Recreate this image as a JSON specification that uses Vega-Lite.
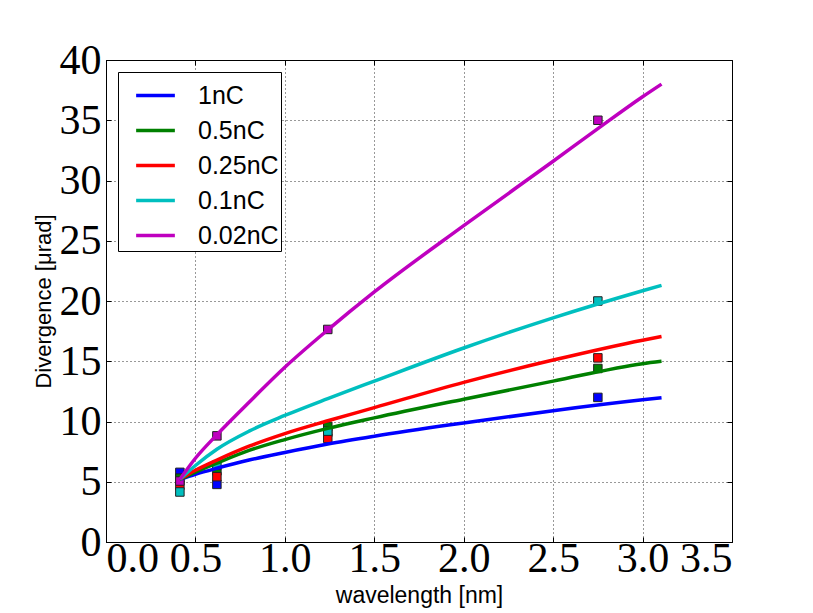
{
  "$schema": "https://vega.github.io/schema/vega-lite/v6.json",
  "width": 626,
  "height": 482,
  "autosize": {"type": "none"},
  "padding": {"left": 106, "top": 60, "right": 81, "bottom": 71},
  "background": "white",
  "config": {
    "view": {"stroke": "black", "strokeWidth": 1},
    "axis": {
      "gridColor": "#000000",
      "gridDash": [1, 3],
      "gridOpacity": 0.8,
      "gridWidth": 1,
      "domainColor": "black",
      "tickColor": "black",
      "tickSize": -5,
      "labelFont": "Liberation Serif",
      "labelFontSize": 42,
      "labelColor": "black",
      "titleFont": "Liberation Sans",
      "titleFontWeight": "normal",
      "titleColor": "black"
    },
    "legend": {
      "title": null, "orient": "none", "legendX": 12, "legendY": 12, "fillColor": "white", "strokeColor": "black", "padding": 2, "cornerRadius": 0, "symbolType": "stroke", "symbolStrokeWidth": 3.5, "symbolSize": 1500, "labelFont": "Liberation Sans", "labelFontSize": 25, "labelColor": "black", "rowPadding": -2, "labelOffset": 21, "symbolOffset": 14
    }
  },
  "datasets": {
    "curves": [
      {"x": 0.413, "y": 5.2, "q": "1nC"}, {"x": 0.5, "y": 5.62, "q": "1nC"}, {"x": 0.62, "y": 6.12, "q": "1nC"}, {"x": 0.8, "y": 6.8, "q": "1nC"}, {"x": 1.0, "y": 7.43, "q": "1nC"}, {"x": 1.24, "y": 8.13, "q": "1nC"}, {"x": 1.5, "y": 8.78, "q": "1nC"}, {"x": 2.0, "y": 9.88, "q": "1nC"}, {"x": 2.5, "y": 10.9, "q": "1nC"}, {"x": 3.0, "y": 11.8, "q": "1nC"}, {"x": 3.106, "y": 11.97, "q": "1nC"},
      {"x": 0.413, "y": 5.2, "q": "0.5nC"}, {"x": 0.5, "y": 5.8, "q": "0.5nC"}, {"x": 0.62, "y": 6.55, "q": "0.5nC"}, {"x": 0.8, "y": 7.6, "q": "0.5nC"}, {"x": 1.0, "y": 8.5, "q": "0.5nC"}, {"x": 1.24, "y": 9.43, "q": "0.5nC"}, {"x": 1.5, "y": 10.3, "q": "0.5nC"}, {"x": 2.0, "y": 11.85, "q": "0.5nC"}, {"x": 2.5, "y": 13.35, "q": "0.5nC"}, {"x": 3.0, "y": 14.8, "q": "0.5nC"}, {"x": 3.106, "y": 15.0, "q": "0.5nC"},
      {"x": 0.413, "y": 5.2, "q": "0.25nC"}, {"x": 0.5, "y": 5.95, "q": "0.25nC"}, {"x": 0.62, "y": 6.8, "q": "0.25nC"}, {"x": 0.8, "y": 7.95, "q": "0.25nC"}, {"x": 1.0, "y": 9.0, "q": "0.25nC"}, {"x": 1.24, "y": 10.06, "q": "0.25nC"}, {"x": 1.5, "y": 11.15, "q": "0.25nC"}, {"x": 2.0, "y": 13.25, "q": "0.25nC"}, {"x": 2.5, "y": 15.1, "q": "0.25nC"}, {"x": 3.0, "y": 16.75, "q": "0.25nC"}, {"x": 3.106, "y": 17.05, "q": "0.25nC"},
      {"x": 0.413, "y": 5.2, "q": "0.1nC"}, {"x": 0.5, "y": 6.35, "q": "0.1nC"}, {"x": 0.62, "y": 7.7, "q": "0.1nC"}, {"x": 0.8, "y": 9.2, "q": "0.1nC"}, {"x": 1.0, "y": 10.5, "q": "0.1nC"}, {"x": 1.24, "y": 11.9, "q": "0.1nC"}, {"x": 1.5, "y": 13.35, "q": "0.1nC"}, {"x": 2.0, "y": 16.1, "q": "0.1nC"}, {"x": 2.5, "y": 18.6, "q": "0.1nC"}, {"x": 3.0, "y": 20.85, "q": "0.1nC"}, {"x": 3.106, "y": 21.3, "q": "0.1nC"},
      {"x": 0.413, "y": 5.2, "q": "0.02nC"}, {"x": 0.5, "y": 6.95, "q": "0.02nC"}, {"x": 0.62, "y": 8.9, "q": "0.02nC"}, {"x": 0.8, "y": 11.6, "q": "0.02nC"}, {"x": 1.0, "y": 14.5, "q": "0.02nC"}, {"x": 1.24, "y": 17.6, "q": "0.02nC"}, {"x": 1.5, "y": 20.75, "q": "0.02nC"}, {"x": 2.0, "y": 26.25, "q": "0.02nC"}, {"x": 2.5, "y": 31.6, "q": "0.02nC"}, {"x": 2.75, "y": 34.3, "q": "0.02nC"}, {"x": 3.0, "y": 36.95, "q": "0.02nC"}, {"x": 3.106, "y": 38.0, "q": "0.02nC"}
    ],
    "pts": [
      {"x": 0.413, "y": 5.78, "q": "1nC"}, {"x": 0.413, "y": 5.3, "q": "0.5nC"}, {"x": 0.413, "y": 4.7, "q": "0.25nC"}, {"x": 0.413, "y": 4.15, "q": "0.1nC"}, {"x": 0.413, "y": 5.06, "q": "0.02nC"},
      {"x": 0.62, "y": 4.78, "q": "1nC"}, {"x": 0.62, "y": 5.9, "q": "0.5nC"}, {"x": 0.62, "y": 5.42, "q": "0.25nC"}, {"x": 0.62, "y": 6.38, "q": "0.1nC"}, {"x": 0.62, "y": 8.81, "q": "0.02nC"},
      {"x": 1.24, "y": 9.1, "q": "1nC"}, {"x": 1.24, "y": 9.6, "q": "0.5nC"}, {"x": 1.24, "y": 8.6, "q": "0.25nC"}, {"x": 1.24, "y": 9.2, "q": "0.1nC"}, {"x": 1.24, "y": 17.64, "q": "0.02nC"},
      {"x": 2.75, "y": 12.0, "q": "1nC"}, {"x": 2.75, "y": 14.4, "q": "0.5nC"}, {"x": 2.75, "y": 15.28, "q": "0.25nC"}, {"x": 2.75, "y": 20.0, "q": "0.1nC"}, {"x": 2.75, "y": 35.0, "q": "0.02nC"}
    ]
  },
  "layer": [
    {
      "data": {"name": "pts"},
      "mark": {"type": "point", "shape": "square", "filled": true, "size": 72, "stroke": "#222222", "strokeWidth": 1, "opacity": 1},
      "encoding": {
        "x": {"field": "x", "type": "quantitative", "scale": {"domain": [0, 3.5], "nice": false}, "axis": {"orient": "top", "labels": false, "title": null, "grid": false, "domain": false, "values": [0,0.5,1,1.5,2,2.5,3,3.5]}},
        "y": {"field": "y", "type": "quantitative", "scale": {"domain": [0, 40], "nice": false}, "axis": {"orient": "right", "labels": false, "title": null, "grid": false, "domain": false, "values": [0,5,10,15,20,25,30,35,40]}},
        "color": {"field": "q", "type": "nominal", "scale": {"domain": ["1nC", "0.5nC", "0.25nC", "0.1nC", "0.02nC"], "range": ["#0000ff", "#008000", "#ff0000", "#00bfbf", "#bf00bf"]}, "legend": {"symbolType": "stroke"}}
      }
    },
    {
      "data": {"name": "curves"},
      "mark": {"type": "line", "strokeWidth": 3.5, "interpolate": "monotone"},
      "encoding": {
        "x": {"field": "x", "type": "quantitative", "scale": {"domain": [0, 3.5], "nice": false}, "axis": {"orient": "bottom", "grid": true, "title": "wavelength [nm]", "titleFontSize": 23, "titlePadding": 5, "format": ".1f", "values": [0,0.5,1,1.5,2,2.5,3,3.5], "labelPadding": 1}},
        "y": {"field": "y", "type": "quantitative", "scale": {"domain": [0, 40], "nice": false}, "axis": {"orient": "left", "grid": true, "title": "Divergence [μrad]", "titleFontSize": 22, "titlePadding": 4, "values": [0,5,10,15,20,25,30,35,40], "labelPadding": 10}},
        "color": {"field": "q", "type": "nominal", "scale": {"domain": ["1nC", "0.5nC", "0.25nC", "0.1nC", "0.02nC"], "range": ["#0000ff", "#008000", "#ff0000", "#00bfbf", "#bf00bf"]}, "legend": {"symbolType": "stroke"}},
        "detail": {"field": "q"}
      }
    }
  ]
}
